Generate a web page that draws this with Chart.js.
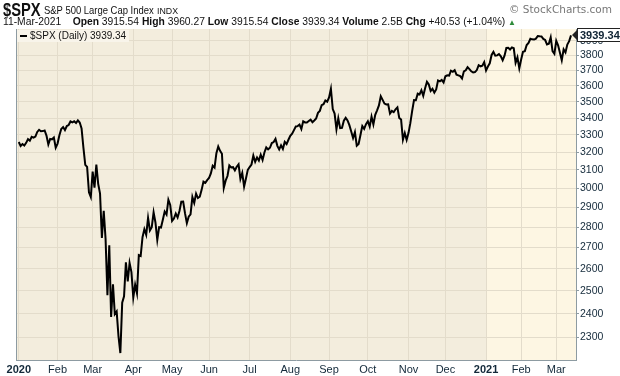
<!DOCTYPE html>
<html>
<head>
<meta charset="utf-8">
<script src="https://cdn.jsdelivr.net/npm/chart.js@4.4.1/dist/chart.umd.min.js"></script>
<style>
  body { margin: 0; background: #fff; font-family: "Liberation Sans", Arial, sans-serif; }
  #wrap { position: relative; width: 620px; height: 376px; overflow: hidden; }
  #chart { position: absolute; left: 0; top: 0; }
  .sym { position: absolute; left: 3px; top: 0px; font-size: 17.5px; font-weight: bold; color: #111; transform: scaleX(0.84); transform-origin: left top; }
  .name { position: absolute; left: 44px; top: 4px; font-size: 11px; color: #111; white-space: nowrap; transform: scaleX(0.86); transform-origin: left top; }
  .ex { position: absolute; left: 157px; top: 6px; font-size: 8.8px; color: #111; }
  .hdr2 { position: absolute; left: 3px; top: 16px; white-space: nowrap; font-size: 10.3px; color: #111; }
  .hdr2 b { font-weight: bold; }
  .tri { color: #2e8b3a; font-size: 8px; }
  .copy { position: absolute; left: 509px; top: 3px; font-size: 10.5px; color: #777; font-family: "DejaVu Sans", sans-serif; white-space: nowrap; }
  #legend { position: absolute; left: 17px; top: 30px; padding: 0 3px 1px 3px; background: #f8f4ea; font-size: 10px; color: #111; white-space: nowrap; }
  #legend .dash { display: inline-block; width: 7px; height: 2px; background: #000; vertical-align: middle; margin-right: 3px; }
  #tag { position: absolute; left: 577px; top: 29px; background: #fff; border: 1px solid #222; font-size: 11px; font-weight: bold; color: #0e2233; padding: 0 2px; line-height: 12px; }
  #tag:before { content: ""; position: absolute; left: -6px; top: 1px; border-top: 5px solid transparent; border-bottom: 5px solid transparent; border-right: 5px solid #222; }
</style>
</head>
<body>
<div id="wrap">
  <canvas id="chart" width="620" height="376"></canvas>
  <div class="sym">$SPX</div>
  <div class="name">S&amp;P 500 Large Cap Index</div>
  <div class="ex">INDX</div>
  <div class="copy">© StockCharts.com</div>
  <div class="hdr2">11-Mar-2021&nbsp;&nbsp;&nbsp;&nbsp;<b>Open</b> 3915.54 <b>High</b> 3960.27 <b>Low</b> 3915.54 <b>Close</b> 3939.34 <b>Volume</b> 2.5B <b>Chg</b> +40.53 (+1.04%) <span class="tri">▲</span></div>
  <div id="legend"><span class="dash"></span>$SPX (Daily) 3939.34</div>
  <div id="tag">3939.34</div>
</div>
<script>
// Fechamentos diários por mês
const jan20 = [3257.85,3234.85,3246.28,3237.18,3253.05,3274.70,3265.35,3288.13,3283.15,3289.29,3316.81,3329.62,3320.79,3321.75,3325.54,3295.47,3243.63,3276.24,3273.40,3283.66,3225.52];
const feb20 = [3248.92,3297.59,3334.69,3345.78,3327.71,3352.09,3357.75,3379.45,3373.94,3380.16,3370.29,3386.15,3373.23,3337.75,3225.89,3128.21,3116.39,2978.76,2954.22];
const mar20 = [3090.23,3003.37,3130.12,3023.94,2972.37,2746.56,2882.23,2741.38,2480.64,2711.02,2386.13,2529.19,2398.10,2409.39,2304.92,2237.40,2447.33,2475.56,2630.07,2541.47,2626.65,2584.59];
const apr20 = [2470.50,2526.90,2488.65,2663.68,2659.41,2749.98,2789.82,2761.63,2846.06,2783.36,2799.55,2874.56,2823.16,2736.56,2799.31,2797.80,2836.74,2878.48,2863.39,2939.51,2912.43];
const may20 = [2830.71,2842.74,2868.44,2848.42,2881.19,2929.80,2930.19,2870.12,2820.00,2852.50,2863.70,2953.91,2922.94,2971.61,2948.51,2955.45,2991.77,3036.13,3029.73,3044.31];
const jun20 = [3055.73,3080.82,3122.87,3112.35,3193.93,3232.39,3207.18,3190.14,3002.10,3041.31,3066.59,3124.74,3113.49,3115.34,3097.74,3117.86,3131.29,3050.33,3083.76,3009.05,3053.24,3100.29];
const jul20 = [3115.86,3130.01,3179.72,3145.32,3169.94,3152.05,3185.04,3155.22,3197.52,3226.56,3215.57,3224.73,3251.84,3257.30,3276.02,3235.66,3215.63,3239.41,3218.44,3258.44,3246.22,3271.12];
const aug20 = [3294.61,3306.51,3327.77,3349.16,3351.28,3360.47,3333.69,3380.35,3373.43,3372.85,3381.99,3389.78,3374.85,3385.51,3397.16,3431.28,3443.62,3478.73,3484.55,3508.01,3500.31];
const sep20 = [3526.65,3580.84,3455.06,3426.96,3331.84,3398.96,3339.19,3340.97,3383.54,3401.20,3385.49,3357.01,3319.47,3281.06,3315.57,3236.92,3246.59,3298.46,3351.60,3335.47,3363.00];
const oct20 = [3380.80,3348.42,3408.60,3360.97,3419.44,3446.83,3477.14,3534.22,3511.93,3488.67,3483.34,3483.81,3426.92,3443.12,3435.56,3453.49,3465.39,3400.97,3390.68,3271.03,3310.11,3269.96];
const nov20 = [3310.24,3369.16,3443.44,3510.45,3509.44,3550.50,3545.53,3572.66,3537.01,3585.15,3626.91,3609.53,3567.79,3581.87,3557.54,3577.59,3635.41,3629.65,3638.35,3621.63];
const dec20 = [3662.45,3669.01,3666.72,3699.12,3691.96,3702.25,3672.82,3668.10,3663.46,3647.49,3694.62,3701.17,3722.48,3709.41,3694.92,3687.26,3690.01,3703.06,3735.36,3727.04,3732.04,3756.07];
const jan21 = [3700.65,3726.86,3748.14,3803.79,3824.68,3799.61,3801.19,3809.84,3795.54,3768.25,3798.91,3851.85,3853.07,3841.47,3855.36,3849.62,3750.77,3787.38,3714.24];
const feb21 = [3773.86,3826.31,3830.17,3871.74,3886.83,3915.59,3911.23,3909.88,3916.38,3934.83,3932.59,3931.33,3913.97,3906.71,3876.50,3881.37,3925.43,3829.34,3811.15];
const mar21 = [3901.82,3870.29,3819.72,3768.47,3841.94,3821.35,3875.44,3898.81,3939.34];

const months = [jan20,feb20,mar20,apr20,may20,jun20,jul20,aug20,sep20,oct20,nov20,dec20,jan21,feb21,mar21];
const monthLabels = ['2020','Feb','Mar','Apr','May','Jun','Jul','Aug','Sep','Oct','Nov','Dec','2021','Feb','Mar'];
const priceTicks = [2300,2400,2500,2600,2700,2800,2900,3000,3100,3200,3300,3400,3500,3600,3700,3800,3900];

// Monta a série e as posições de início de mês
const closes = [].concat(...months);
const monthStarts = [];
let acc = 0;
months.forEach(m => { monthStarts.push(acc); acc += m.length; });
const yearSplit = monthStarts[12];
const points = closes.map((v, i) => ({ x: i, y: v }));

const gridColor = '#e3dccb';
const axisColor = '#8d9ba2';
const tickColor = '#13293a';

// Fundo em duas cores (2020 / 2021) e borda esquerda
const backgroundPlugin = {
    id: 'bg',
    beforeDraw(chart) {
        const { ctx, chartArea: a, scales } = chart;
        const split = scales.x.getPixelForValue(yearSplit);
        ctx.save();
        ctx.fillStyle = '#f3eddd';
        ctx.fillRect(a.left, a.top, split - a.left, a.bottom - a.top);
        ctx.fillStyle = '#fdf6e3';
        ctx.fillRect(split, a.top, a.right - split, a.bottom - a.top);
        ctx.restore();
    },
    afterDraw(chart) {
        const { ctx, chartArea: a } = chart;
        ctx.save();
        ctx.strokeStyle = axisColor;
        ctx.lineWidth = 1;
        ctx.beginPath();
        ctx.moveTo(a.left + 0.5, a.top);
        ctx.lineTo(a.left + 0.5, a.bottom);
        ctx.stroke();
        ctx.restore();
    }
};

const chart = new Chart(document.getElementById('chart'), {
    type: 'line',
    data: {
        datasets: [{
            data: points,
            borderColor: '#000',
            borderWidth: 2,
            pointRadius: 0,
            tension: 0,
            fill: false
        }]
    },
    options: {
        responsive: false,
        animation: false,
        events: [],
        layout: { padding: { left: 16, top: 29, right: 0, bottom: 0 } },
        plugins: { legend: { display: false }, tooltip: { enabled: false } },
        scales: {
            x: {
                type: 'linear',
                min: -1.5,
                max: 301.7,
                afterBuildTicks: s => { s.ticks = monthStarts.map(v => ({ value: v })); },
                afterFit: s => { s.height = 16; },
                grid: { color: gridColor, drawTicks: false },
                border: { color: axisColor },
                ticks: {
                    autoSkip: false,
                    maxRotation: 0,
                    padding: 3,
                    color: tickColor,
                    font: ctx => ({
                        family: 'Liberation Sans',
                        size: 11,
                        weight: (ctx.tick && (ctx.tick.value === 0 || ctx.tick.value === yearSplit)) ? 'bold' : 'normal'
                    }),
                    callback: v => monthLabels[monthStarts.indexOf(v)]
                }
            },
            y: {
                type: 'logarithmic',
                position: 'right',
                min: 2210,
                max: 3984,
                afterBuildTicks: s => { s.ticks = priceTicks.map(v => ({ value: v })); },
                afterFit: s => { s.width = 44; },
                grid: { color: gridColor, tickColor: axisColor, tickLength: 3 },
                border: { color: axisColor },
                ticks: {
                    autoSkip: false,
                    padding: 1,
                    color: tickColor,
                    font: { family: 'Liberation Sans', size: 10.5 },
                    callback: v => String(v)
                }
            }
        }
    },
    plugins: [backgroundPlugin]
});

// Posiciona a etiqueta do último preço
const lastY = chart.scales.y.getPixelForValue(closes[closes.length - 1]);
document.getElementById('tag').style.top = (lastY - 7) + 'px';
</script>
</body>
</html>
